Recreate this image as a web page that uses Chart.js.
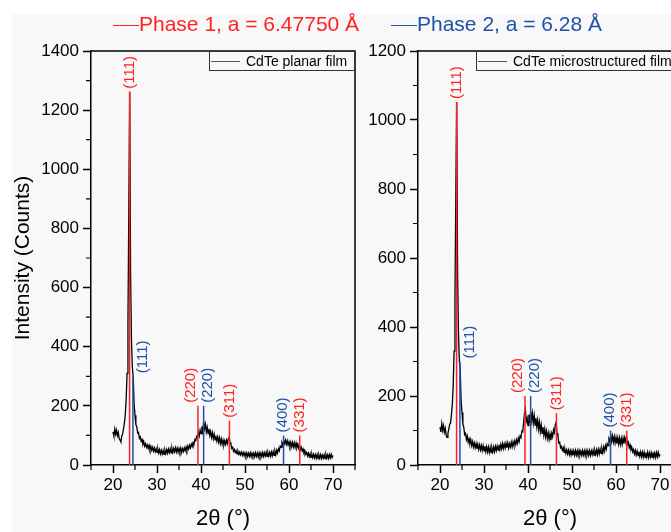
<!DOCTYPE html>
<html>
<head>
<meta charset="utf-8">
<script src="https://cdn.jsdelivr.net/npm/chart.js@4.4.1/dist/chart.umd.min.js"></script>
<style>
  html, body { margin: 0; padding: 0; width: 671px; height: 532px; overflow: hidden; background: #fff; }
  #bg { position: absolute; left: 12px; top: 14px; width: 659px; height: 518px; background: #f8f8f8; }
  #left { position: absolute; left: 0; top: 0; }
  #right { position: absolute; left: 340px; top: 0; }
  .item { position: absolute; top: 10px; white-space: nowrap; font: 21px "Liberation Sans", Arial, sans-serif; line-height: 28px; }
  .dash { display: inline-block; width: 26px; border-top: 1.5px solid; vertical-align: middle; }
</style>
</head>
<body>
<div id="bg"></div>
<canvas id="left" width="372" height="532"></canvas>
<canvas id="right" width="360" height="532"></canvas>
<div class="item" style="left:113px;color:#ff2222"><span class="dash"></span>Phase 1, a = 6.47750 Å</div>
<div class="item" style="left:391px;color:#2050a8"><span class="dash"></span>Phase 2, a = 6.28 Å</div>
<script>
// measured pattern, 2theta from 20 to 70 deg in 0.2 deg steps
const thetaStart = 20;
const thetaStep = 0.2;

const planarCounts = [
  112, 98, 122, 104, 118, 99, 110, 90, 84, 78,
  98, 106, 124, 142, 172, 225, 310, 480, 880, 1262,
  640, 420, 330, 296, 205, 168, 136, 130, 108, 110,
  90, 95, 80, 86, 70, 78, 64, 72, 60, 68,
  56, 66, 52, 63, 50, 60, 47, 58, 45, 55,
  43, 54, 40, 52, 38, 50, 37, 49, 36, 50,
  39, 52, 40, 54, 42, 55, 41, 57, 43, 56,
  45, 58, 44, 57, 43, 56, 44, 57, 42, 55,
  46, 58, 48, 61, 50, 64, 54, 67, 58, 71,
  63, 76, 72, 86, 82, 96, 92, 110, 98, 118,
  106, 130, 114, 145, 122, 138, 112, 128, 106, 122,
  100, 114, 94, 109, 89, 104, 85, 99, 81, 95,
  77, 92, 73, 88, 70, 84, 68, 82, 70, 84,
  72, 88, 94, 76, 70, 56, 60, 46, 52, 42,
  48, 38, 46, 36, 44, 34, 43, 33, 42, 31,
  41, 30, 41, 29, 40, 29, 41, 28, 40, 30,
  40, 28, 41, 29, 40, 27, 41, 29, 40, 28,
  42, 29, 41, 30, 43, 29, 42, 31, 43, 30,
  44, 31, 45, 33, 47, 35, 50, 40, 55, 48,
  64, 60, 76, 68, 82, 72, 84, 70, 82, 68,
  78, 64, 77, 62, 76, 61, 75, 60, 74, 59,
  70, 56, 66, 52, 60, 47, 54, 42, 48, 37,
  43, 31, 40, 28, 38, 26, 37, 25, 36, 24,
  35, 23, 35, 22, 34, 23, 35, 22, 33, 23,
  34, 22, 35, 23, 34, 22, 35, 24, 36, 25,
  32
];

const microCounts = [
  110, 96, 120, 100, 114, 95, 106, 86, 80, 92,
  104, 118, 122, 146, 175, 230, 330, 470, 800, 1052,
  560, 380, 302, 272, 185, 152, 118, 110, 88, 92,
  74, 84, 66, 76, 62, 73, 56, 68, 52, 64,
  50, 62, 47, 60, 45, 58, 44, 57, 42, 56,
  41, 55, 39, 53, 38, 52, 36, 51, 36, 50,
  38, 52, 39, 54, 42, 55, 43, 58, 45, 59,
  47, 62, 48, 61, 49, 63, 50, 64, 49, 62,
  52, 66, 53, 67, 56, 70, 59, 73, 63, 78,
  68, 84, 80, 98, 96, 122, 150, 162, 126, 136,
  114, 146, 122, 156, 128, 150, 122, 144, 116, 136,
  110, 130, 104, 124, 97, 116, 92, 110, 86, 104,
  81, 98, 77, 93, 74, 90, 72, 92, 82, 102,
  94, 116, 124, 92, 84, 64, 66, 50, 54, 43,
  50, 37, 46, 34, 44, 32, 43, 30, 42, 29,
  41, 28, 41, 28, 42, 29, 41, 27, 42, 29,
  40, 28, 42, 29, 41, 27, 42, 29, 41, 28,
  42, 28, 41, 30, 43, 29, 42, 31, 44, 30,
  45, 32, 46, 34, 48, 36, 52, 40, 56, 46,
  62, 56, 76, 70, 86, 68, 84, 66, 82, 64,
  80, 62, 79, 61, 78, 60, 77, 60, 78, 62,
  80, 68, 82, 60, 66, 50, 58, 44, 50, 38,
  45, 32, 42, 29, 40, 27, 39, 25, 38, 24,
  37, 23, 37, 22, 36, 23, 37, 22, 35, 23,
  36, 22, 37, 23, 35, 22, 36, 24, 37, 25,
  31
];

// reference sticks
const phase1Pos = [23.77, 39.31, 46.46, 62.44];
const phase1Hkl = ['(111)', '(220)', '(311)', '(331)'];
const phase1HeightPlanar = [1262, 200, 150, 100];
const phase1HeightMicro = [1052, 200, 150, 100];
const phase2Pos = [24.53, 40.60, 58.76];
const phase2Hkl = ['(111)', '(220)', '(400)'];
const phase2Height = [300, 200, 100];

const xTicks = [20, 30, 40, 50, 60, 70];
const xMinor = [15, 25, 35, 45, 55, 65, 75];
const yTicksPlanar = [0, 200, 400, 600, 800, 1000, 1200, 1400];
const yMinorPlanar = [100, 300, 500, 700, 900, 1100, 1300];
const yTicksMicro = [0, 200, 400, 600, 800, 1000, 1200];
const yMinorMicro = [100, 300, 500, 700, 900, 1100];

const RED = '#ff2222';
const BLUE = '#2050a8';
const FONT = "'Liberation Sans', Arial, sans-serif";
Chart.defaults.font.family = FONT;
Chart.defaults.color = '#000';

// label nudges so neighbouring hkl labels don't collide
const phase1Dx = [0, -7, 0, 0];
const phase2Dx = [10, 4, -1];

function sticks(pos, hts) {
  const out = [];
  pos.forEach((p, i) => {
    out.push({ x: p, y: 0 }, { x: p, y: hts[i] }, { x: p, y: null });
  });
  return out;
}

const boxPlugin = {
  id: 'boxPlugin',
  afterDatasetsDraw(chart, args, o) {
    const { ctx, chartArea: a, scales: { x, y } } = chart;
    ctx.save();
    // hkl labels
    ctx.font = '15px ' + FONT;
    ctx.textAlign = 'left';
    ctx.textBaseline = 'middle';
    o.labels.forEach(l => {
      ctx.fillStyle = l.color;
      ctx.save();
      ctx.translate(x.getPixelForValue(l.x) + l.dx, y.getPixelForValue(l.y) - 3);
      ctx.rotate(-Math.PI / 2);
      ctx.fillText(l.text, 0, 0);
      ctx.restore();
    });
    // frame top/right
    ctx.strokeStyle = '#000';
    ctx.lineWidth = 1.5;
    ctx.beginPath();
    ctx.moveTo(a.left, a.top);
    ctx.lineTo(a.right, a.top);
    ctx.lineTo(a.right, a.bottom);
    ctx.stroke();
    // minor ticks
    ctx.lineWidth = 1.2;
    ctx.beginPath();
    xMinor.forEach(v => {
      const px = x.getPixelForValue(v);
      ctx.moveTo(px, a.bottom);
      ctx.lineTo(px, a.bottom + 5);
    });
    o.yMinor.forEach(v => {
      const py = y.getPixelForValue(v);
      ctx.moveTo(a.left - 5, py);
      ctx.lineTo(a.left, py);
    });
    ctx.stroke();
    // legend box
    const bx = a.left + o.boxOffset, by = a.top, bw = a.right - bx, bh = 20;
    ctx.fillStyle = '#f8f8f8';
    ctx.fillRect(bx, by, bw, bh);
    ctx.lineWidth = 1;
    ctx.strokeStyle = '#333';
    ctx.strokeRect(bx + 0.5, by + 0.5, bw - 1, bh - 1);
    ctx.strokeStyle = '#555';
    ctx.beginPath();
    ctx.moveTo(bx + 2, by + 10.5);
    ctx.lineTo(bx + 31, by + 10.5);
    ctx.stroke();
    ctx.font = '14px ' + FONT;
    ctx.fillStyle = '#000';
    ctx.fillText(chart.data.datasets[0].label, bx + 37, by + 11);
    ctx.restore();
  }
};

function makeChart(id, cfg) {
  const pts = cfg.counts.map((c, i) => ({ x: thetaStart + i * thetaStep, y: c }));
  const labels = [];
  phase1Pos.forEach((p, i) => labels.push({ x: p, y: cfg.h1[i], text: phase1Hkl[i], color: RED, dx: phase1Dx[i] }));
  phase2Pos.forEach((p, i) => labels.push({ x: p, y: phase2Height[i], text: phase2Hkl[i], color: BLUE, dx: phase2Dx[i] }));
  const tickFont = { size: 17 };
  return new Chart(document.getElementById(id), {
    type: 'line',
    data: {
      datasets: [
        { label: cfg.name, data: pts, borderColor: '#000', borderWidth: 1.3, pointRadius: 0, order: 2 },
        { label: 'Phase 1', data: sticks(phase1Pos, cfg.h1), borderColor: RED, borderWidth: 1.5, pointRadius: 0, spanGaps: false, order: 1 },
        { label: 'Phase 2', data: sticks(phase2Pos, phase2Height), borderColor: BLUE, borderWidth: 1.5, pointRadius: 0, spanGaps: false, order: 0 }
      ]
    },
    options: {
      responsive: false,
      animation: false,
      layout: { padding: { top: 51, right: cfg.padRight, bottom: 0, left: 0 } },
      plugins: {
        legend: { display: false },
        tooltip: { enabled: false },
        boxPlugin: { labels: labels, yMinor: cfg.yMinor, boxOffset: cfg.boxOffset }
      },
      scales: {
        x: {
          type: 'linear', min: 15, max: 75,
          afterBuildTicks: s => { s.ticks = xTicks.map(v => ({ value: v })); },
          afterFit: s => { s.height = 67; },
          ticks: { font: tickFont, padding: 2, maxRotation: 0, callback: v => String(v) },
          grid: { drawOnChartArea: false, tickLength: 8, tickColor: '#000', tickWidth: 1.5 },
          border: { color: '#000', width: 1.5 },
          title: { display: true, text: '2θ (°)', font: { size: 22 }, padding: { top: 0, bottom: 0 } }
        },
        y: {
          min: 0, max: cfg.yMax,
          afterBuildTicks: s => { s.ticks = cfg.yTicks.map(v => ({ value: v })); },
          afterFit: s => { s.width = cfg.yWidth; },
          ticks: { font: tickFont, padding: 4, callback: v => String(v) },
          grid: { drawOnChartArea: false, tickLength: 8, tickColor: '#000', tickWidth: 1.5 },
          border: { color: '#000', width: 1.5 },
          title: { display: cfg.yTitle, text: 'Intensity (Counts)', font: { size: 21 }, padding: { top: 11, bottom: 0 } }
        }
      }
    },
    plugins: [boxPlugin]
  });
}

makeChart('left', {
  name: 'CdTe planar film', counts: planarCounts, h1: phase1HeightPlanar,
  yMax: 1400, yTicks: yTicksPlanar, yMinor: yMinorPlanar,
  yWidth: 91, padRight: 17, boxOffset: 118, yTitle: true
});
makeChart('right', {
  name: 'CdTe microstructured film', counts: microCounts, h1: phase1HeightMicro,
  yMax: 1200, yTicks: yTicksMicro, yMinor: yMinorMicro,
  yWidth: 78, padRight: 18, boxOffset: 58, yTitle: false
});
</script>
</body>
</html>
